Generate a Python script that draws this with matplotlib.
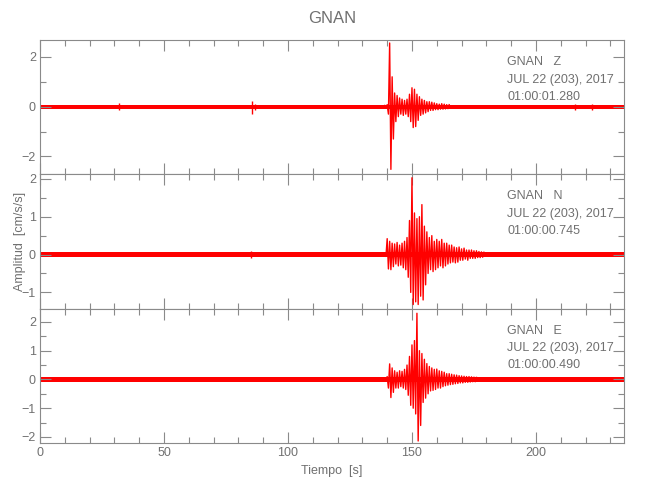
import matplotlib
matplotlib.use("Agg")
import matplotlib.pyplot as plt
import numpy as np
from matplotlib.ticker import MultipleLocator

plt.rcParams['font.family'] = ['Liberation Sans', 'DejaVu Sans']

# Station / channel info
station = "GNAN"
channels = ["Z", "N", "E"]
start_times = ["01:00:01.280", "01:00:00.745", "01:00:00.490"]
date_text = "JUL 22 (203), 2017"
t_end = 235.5

# Background noise amplitude per channel (cm/s/s)
noise_level = [0.08, 0.06, 0.08]

# Event window samples (start 139.0 s, every 0.5 s), peak values
event_start = 139.0
event_dt = 0.5
z_event = [0.05, -0.06, 0.08, -0.3, 2.56, -2.52, 1.2, -1.3, 0.55, -0.6,
           0.45, -0.4, 0.35, -0.3, 0.3, -0.35, 0.25, -0.3, 0.3, -0.4,
           0.5, -0.6, 0.76, -0.84, 0.7, -0.8, 0.5, -0.55, 0.4, -0.35,
           0.3, -0.3, 0.25, -0.25, 0.2, -0.2, 0.2, -0.15, 0.18, -0.15,
           0.15, -0.12, 0.12, -0.12, 0.1, -0.1, 0.12, -0.1, 0.1, -0.09,
           0.08, -0.08, 0.08]
n_event = [0.04, -0.05, 0.42, -0.38, 0.35, -0.4, 0.3, -0.32, 0.28, -0.25,
           0.32, -0.3, 0.25, -0.28, 0.3, -0.35, 0.35, -0.4, 0.45, -0.6,
           0.9, -1.0, 2.03, -1.32, 1.1, -1.25, 0.95, -1.32, 1.0, -1.1,
           1.32, -1.2, 0.75, -0.8, 0.6, -0.5, 0.45, -0.4, 0.5, -0.45,
           0.35, -0.4, 0.4, -0.35, 0.35, -0.3, 0.4, -0.35, 0.3, -0.3,
           0.3, -0.25, 0.25, -0.22, 0.25, -0.2, 0.2, -0.22, 0.18, -0.2,
           0.2, -0.15, 0.15, -0.15, 0.17, -0.12, 0.12, -0.15, 0.12, -0.1,
           0.12, -0.1, 0.1, -0.1, 0.1, -0.08, 0.08, -0.08, 0.07, -0.07,
           0.06]
e_event = [0.05, -0.06, 0.1, -0.3, 0.54, -0.63, 0.4, -0.45, 0.3, -0.3,
           0.25, -0.3, 0.3, -0.25, 0.28, -0.3, 0.35, -0.35, 0.5, -0.55,
           0.8, -0.9, 1.2, -1.0, 1.35, -1.2, 2.3, -2.14, 1.0, -1.6,
           0.9, -0.8, 0.7, -0.65, 0.55, -0.5, 0.45, -0.4, 0.4, -0.38,
           0.35, -0.35, 0.36, -0.3, 0.3, -0.3, 0.28, -0.25, 0.25, -0.22,
           0.2, -0.2, 0.2, -0.18, 0.18, -0.17, 0.16, -0.15, 0.15, -0.14,
           0.13, -0.12, 0.12, -0.12, 0.11, -0.1, 0.1, -0.1, 0.1, -0.09,
           0.09, -0.08, 0.08, -0.08, 0.07]
events = [z_event, n_event, e_event]

# small isolated bursts: time, max, min
z_bursts_t = [32.0, 85.4, 86.5, 215.7, 222.5]
z_bursts_hi = [0.15, 0.21, 0.12, 0.12, 0.12]
z_bursts_lo = [-0.15, -0.3, -0.15, -0.12, -0.12]
n_bursts_t = [85.0]
n_bursts_hi = [0.1]
n_bursts_lo = [-0.1]
e_bursts_t = []
e_bursts_hi = []
e_bursts_lo = []
bursts = [(z_bursts_t, z_bursts_hi, z_bursts_lo),
          (n_bursts_t, n_bursts_hi, n_bursts_lo),
          (e_bursts_t, e_bursts_hi, e_bursts_lo)]

ylims = [(-2.72, 2.68), (-1.43, 2.12), (-2.21, 2.46)]
y_major = [2, 1, 1]

gray = '#8a8a8a'
tgray = '#707070'

fig = plt.figure(figsize=(6.5, 5), dpi=100)
gs = fig.add_gridspec(3, 1, left=40/650, right=624/650, top=1-40/500,
                      bottom=1-443/500, hspace=0)

axes = []
for i in range(3):
    ax = fig.add_subplot(gs[i])
    axes.append(ax)
    # noise band
    ax.fill_between([0, t_end], -noise_level[i], noise_level[i],
                    color='red', lw=0)
    t = event_start + event_dt*np.arange(len(events[i]))
    ax.plot(t, events[i], color='red', lw=1.0, clip_on=False)
    bt, bh, bl = bursts[i]
    if bt:
        ax.vlines(bt, bl, bh, color='red', lw=1.0)
    ax.set_xlim(0, t_end)
    ax.set_ylim(*ylims[i])
    ax.xaxis.set_major_locator(MultipleLocator(50))
    ax.xaxis.set_minor_locator(MultipleLocator(10))
    ax.yaxis.set_major_locator(MultipleLocator(y_major[i]))
    ax.yaxis.set_minor_locator(MultipleLocator(y_major[i]/2))
    ax.tick_params(which='both', direction='in', top=True, right=True,
                   color=gray, labelcolor=tgray, labelsize=9, width=0.8,
                   pad=3)
    ax.tick_params(which='major', length=8)
    ax.tick_params(which='minor', length=4)
    for s in ax.spines.values():
        s.set_color(gray)
        s.set_linewidth(0.8)
    if i < 2:
        ax.tick_params(labelbottom=False)
    ax.text(0.80, 0.835, station + "   " + channels[i], transform=ax.transAxes,
            fontsize=9, color=tgray, va='center')
    ax.text(0.80, 0.705, date_text, transform=ax.transAxes,
            fontsize=9, color=tgray, va='center')
    ax.text(0.80, 0.578, start_times[i], transform=ax.transAxes,
            fontsize=9, color=tgray, va='center')

axes[0].set_title(station, color=tgray, fontsize=12, pad=12)
axes[1].set_ylabel("Amplitud  [cm/s/s]", color=tgray, fontsize=9)
axes[1].yaxis.set_label_coords(-0.024, 0.5)
axes[2].set_xlabel("Tiempo  [s]", color=tgray, fontsize=9, labelpad=4)

fig.savefig("out.png", dpi=100)
